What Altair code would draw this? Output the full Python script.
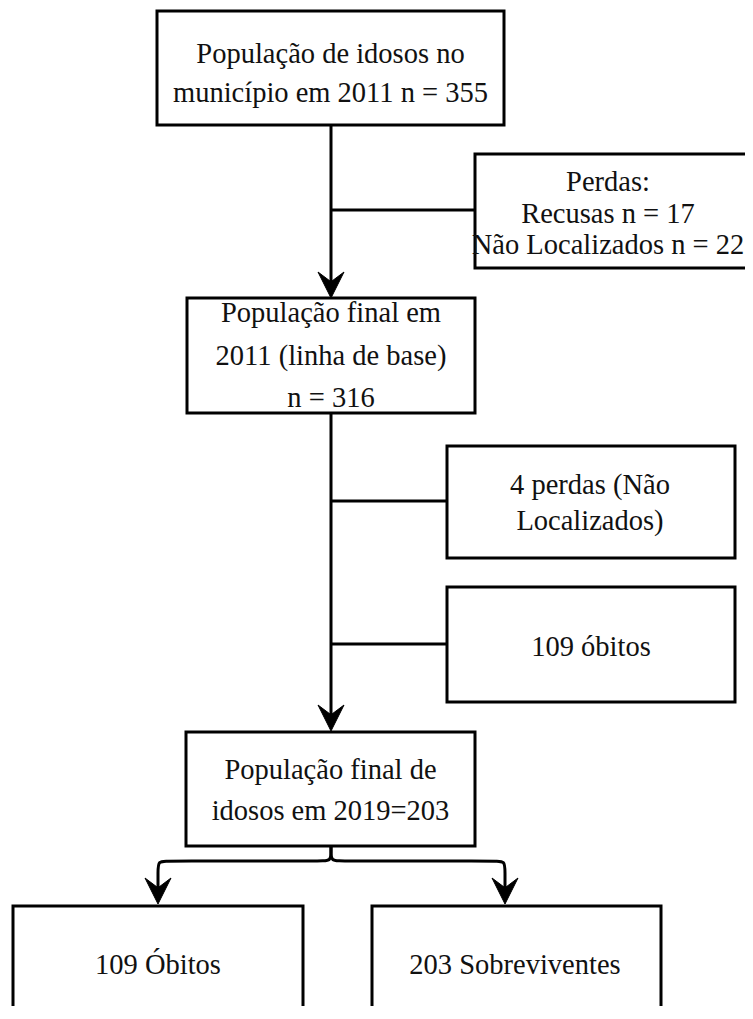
import altair as alt
import pandas as pd

# ---- content of the flowchart ----
node_ids = ["pop2011", "perdas", "final2011", "perdas4", "obitos109",
            "final2019", "obitos", "sobrev"]
node_labels = [
    ["População de idosos no", "município em 2011 n = 355"],
    ["Perdas:", "Recusas n = 17", "Não Localizados n = 22"],
    ["População final em", "2011 (linha de base)", "n = 316"],
    ["4 perdas (Não", "Localizados)"],
    ["109 óbitos"],
    ["População final de", "idosos em 2019=203"],
    ["109 Óbitos"],
    ["203 Sobreviventes"],
]

# ---- layout of the diagram (page pixel coordinates) ----
# x0, x1, y0, y1, text centre x, text centre y, line spacing
LAYOUT = {
    "pop2011":   (157, 504, 11, 125, 330.5, 73, 39),
    "perdas":    (475, 761, 154, 268, 608, 213.5, 31.5),
    "final2011": (187, 475, 298, 413, 331, 355.5, 42.5),
    "perdas4":   (447, 735, 446, 558, 590, 503, 35.5),
    "obitos109": (447, 735, 587, 702, 591, 647, 0),
    "final2019": (186, 475, 732, 846, 330.5, 790.5, 41),
    "obitos":    (13, 303, 906, 1025, 158, 965, 0),
    "sobrev":    (372, 661, 906, 1025, 515, 965, 0),
}
# straight connectors: x, y, x2, y2
CONNECTORS = [
    (331, 125, 331, 290),
    (331, 413, 331, 722),
    (331, 210, 475, 210),
    (331, 501, 447, 501),
    (331, 644, 447, 644),
]
# brace at the bottom (two branches)
BRACE = {
    "left":  [(331, 846), (331, 851), (331, 861), (321, 861), (168, 861),
              (158, 861), (158, 871), (158, 895)],
    "right": [(331, 846), (331, 851), (331, 861), (341, 861), (495, 861),
              (505, 861), (505, 871), (505, 895)],
}
# arrow tips
ARROWS = [(331, 298), (331, 731), (158, 904), (505, 904)]
ARROW_PX = 26

W, H = 737, 998
FONT = "Liberation Serif"
FS = 28.5

boxes = pd.DataFrame([
    {"id": n, "x": LAYOUT[n][0], "x2": LAYOUT[n][1], "y": LAYOUT[n][2], "y2": LAYOUT[n][3]}
    for n in node_ids
])

text_rows = []
for n, lines in zip(node_ids, node_labels):
    _, _, _, _, cx, cy, lh = LAYOUT[n]
    k = len(lines)
    for i, line in enumerate(lines):
        text_rows.append({"id": n, "text": line, "x": cx, "y": cy + (i - (k - 1) / 2) * lh})
texts = pd.DataFrame(text_rows)

rules = pd.DataFrame([{"x": a, "y": b, "x2": c, "y2": d} for a, b, c, d in CONNECTORS])

brace_rows = []
for br, pts in BRACE.items():
    for i, (px, py) in enumerate(pts):
        brace_rows.append({"branch": br, "i": i, "x": px, "y": py})
brace = pd.DataFrame(brace_rows)

arrows = pd.DataFrame([{"x": ax, "y": ay - ARROW_PX / 2} for ax, ay in ARROWS])

xs = alt.Scale(domain=[8, 8 + W], nice=False, zero=False)
ys = alt.Scale(domain=[8, 8 + H], nice=False, zero=False, reverse=True)

X = lambda f: alt.X(f, type="quantitative", scale=xs, axis=None)
Y = lambda f: alt.Y(f, type="quantitative", scale=ys, axis=None)

rect_layer = alt.Chart(boxes).mark_rect(
    fill="white", stroke="black", strokeWidth=3, clip=True
).encode(x=X("x"), x2="x2", y=Y("y"), y2="y2")

rule_layer = alt.Chart(rules).mark_rule(
    color="black", strokeWidth=3, clip=True
).encode(x=X("x"), x2="x2", y=Y("y"), y2="y2")

brace_layer = alt.Chart(brace).mark_line(
    color="black", strokeWidth=3, interpolate="basis", clip=True
).encode(x=X("x"), y=Y("y"), detail="branch:N", order="i:Q")

arrow_path = "M0,1 L-1,-1 L0,-0.25 L1,-1 Z"
arrow_layer = alt.Chart(arrows).mark_point(
    shape=arrow_path, filled=True, fill="black", stroke="black",
    strokeWidth=1, opacity=1, size=ARROW_PX ** 2, clip=True
).encode(x=X("x"), y=Y("y"))

text_layer = alt.Chart(texts).mark_text(
    font=FONT, fontSize=FS, color="#111111", align="center", baseline="middle"
).encode(x=X("x"), y=Y("y"), text="text:N")

chart = alt.layer(
    rect_layer, rule_layer, brace_layer, arrow_layer, text_layer
).properties(
    width=W, height=H, padding=0,
    autosize=alt.AutoSizeParams(type="none"),
).configure(
    background="white",
    view=alt.ViewConfig(stroke=None),
)

chart.save("out.html", embed_options={"renderer": "svg", "actions": False})
